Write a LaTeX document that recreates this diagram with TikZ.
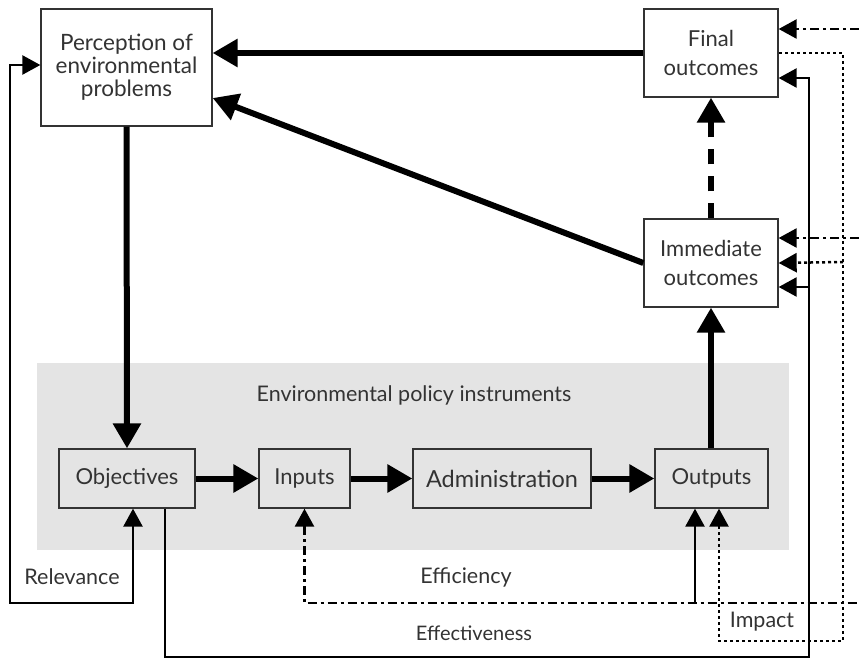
\documentclass[tikz,border=0pt]{standalone}
\usepackage{fontspec}
\setmainfont{Lato}
\usetikzlibrary{arrows.meta,calc}
\definecolor{txt}{HTML}{333333}
\definecolor{bggray}{HTML}{E4E4E4}
\begin{document}
\begin{tikzpicture}[x=1pt,y=-1pt,
  box/.style={draw=txt, line width=1.3pt, text=txt, align=center, inner sep=0pt},
  boxfont/.style={font=\fontsize{22}{24}\selectfont},
  lbl/.style={text=txt, inner sep=0pt, font=\fontsize{21.5}{24}\selectfont},
  bigarrow/.style={line width=6pt, -{Triangle[length=25pt,width=27pt]}},
  thinline/.style={line width=2.5pt},
  tip/.style={-{Triangle[length=18pt,width=19pt]}},
  tipstart/.style={{Triangle[length=18pt,width=19pt]}-},
  tipboth/.style={{Triangle[length=18pt,width=19pt]}-{Triangle[length=18pt,width=19pt]}},
  dashdot/.style={dash pattern=on 9pt off 4pt on 3pt off 4pt},
  dotline/.style={dash pattern=on 3pt off 3pt},
]
\useasboundingbox (0,0) rectangle (859,660);
% background panel
\fill[bggray] (37,363) rectangle (789,550);
\node[lbl] (title) at (414,395) {Environmental policy instruments};

% boxes
\node[box, fill=white, minimum width=171pt, minimum height=117pt, font=\fontsize{22.5}{23}\selectfont] (perc) at (126.5,67.5) {Perception of\\environmental\\problems};
\node[box, fill=white, minimum width=134pt, minimum height=88pt, font=\fontsize{22}{28.5}\selectfont] (final) at (711,53) {Final\\outcomes};
\node[box, fill=white, minimum width=134pt, minimum height=88pt, font=\fontsize{22}{28.5}\selectfont] (immed) at (711,263) {Immediate\\outcomes};
\node[box, boxfont, minimum width=136pt, minimum height=59pt] (obj) at (127,478.5) {Objectives};
\node[box, boxfont, minimum width=91pt, minimum height=59pt] (inp) at (304.5,478.5) {Inputs};
\node[box, boxfont, minimum width=178pt, minimum height=59pt, font=\fontsize{23.5}{24}\selectfont] (adm) at (502,478.5) {Administration};
\node[box, boxfont, minimum width=113pt, minimum height=59pt] (outp) at (711.5,478.5) {Outputs};

% labels
\node[lbl] (relev) at (72,577) {Relevance};
\node[lbl] (effic) at (466,577) {Efficiency};
\node[lbl, font=\fontsize{20}{24}\selectfont] (effec) at (474,633) {Effectiveness};
\node[lbl] (impact) at (762,622) {Impact};

% thick arrows
\draw[bigarrow] (final.west) -- (perc.east |- final.west);
\draw[bigarrow] (immed.west) -- ([yshift=-30.5pt]perc.east);
\draw[bigarrow] (perc.south) -- (obj.north);
\draw[bigarrow] (obj.east) -- (inp.west);
\draw[bigarrow] (inp.east) -- (adm.west);
\draw[bigarrow] (adm.east) -- (outp.west);
\draw[bigarrow] (outp.north -| immed.south) -- (immed.south);
\draw[bigarrow, dash pattern=on 15pt off 12pt] (immed.north) -- (final.south);

% corner coordinates
\coordinate (relcorner) at (10,603);
\coordinate (effcorner) at (809,657);
\coordinate (efficorner) at (859,603);
\coordinate (impcorner) at (843,641);
\coordinate (efftop) at (859,29);
\coordinate (effmid) at (859,238);

% relevance
\draw[thinline, tipboth] ([xshift=6pt]obj.south) |- (relcorner) |- ([yshift=2.5pt]perc.west);
% effectiveness
\draw[thinline, tip] ([xshift=38pt]obj.south) |- (effcorner) |- ([yshift=-25pt]final.east);
\draw[thinline, tip] (effcorner |- 0,287) -- ([yshift=-24pt]immed.east);
% efficiency (dash-dot)
\draw[thinline, dashdot, tipstart] (inp.south) |- (efficorner);
\draw[thinline, dashdot, tip] (efftop) -- ([yshift=24pt]final.east);
\draw[thinline, dashdot, tip] (effmid) -- ([yshift=25pt]immed.east);
\draw[thinline, tip] ([xshift=-16.5pt]outp.south |- efficorner) -- ([xshift=-16.5pt]outp.south);
% impact (dotted)
\draw[thinline, dotline, tipstart] ([xshift=7.5pt]outp.south) |- (impcorner) |- (final.east);
\draw[thinline, dotline, tip] (impcorner |- 0,262) -- (immed.east);
\end{tikzpicture}
\end{document}
